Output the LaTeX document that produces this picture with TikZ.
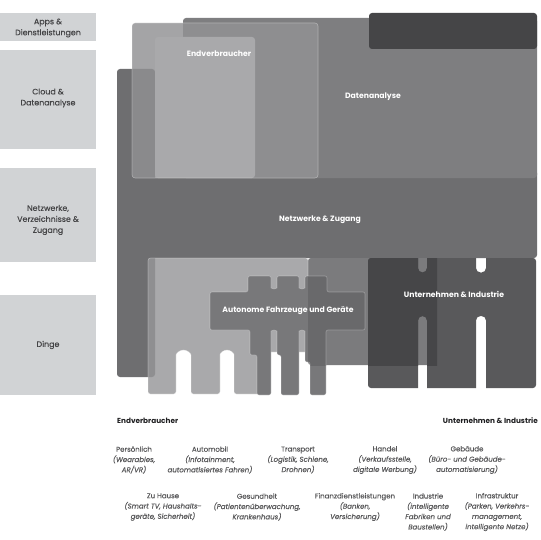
\documentclass[tikz,border=0pt]{standalone}
\usepackage{fontspec}
\setmainfont{Poppins}
\newfontfamily\semifont{Poppins}[FakeBold=0.25]
\definecolor{cLbox}{HTML}{D1D3D5}
\definecolor{cLtxt}{HTML}{444446}
\definecolor{cN}{HTML}{6E6E70}
\definecolor{cD}{HTML}{7E7E80}
\definecolor{cBar}{HTML}{454547}
\definecolor{cEw}{HTML}{A4A4A6}
\definecolor{cEd}{HTML}{8E8E90}
\definecolor{cEn}{HTML}{8A8A8C}
\definecolor{cL}{HTML}{A9A9AB}
\definecolor{cC}{HTML}{A9A9AB}
\definecolor{cCn}{HTML}{8F8F91}
\definecolor{cM}{HTML}{7B7B7D}
\definecolor{cA}{HTML}{78787A}
\definecolor{cAm}{HTML}{69696B}
\definecolor{cU}{HTML}{59595B}
\definecolor{cUm}{HTML}{464648}
\definecolor{cHead}{HTML}{1E1E20}
\definecolor{cItem}{HTML}{58585A}
\begin{document}
\begin{tikzpicture}[x=1pt,y=-1pt,
  lbox/.style={fill=cLbox, draw=none, inner sep=0pt, minimum width=96pt},
  ltxt/.style={text=cLtxt, font=\semifont\fontsize{7.9}{11}\selectfont, align=center, inner sep=0pt},
  wtxt/.style={text=white, font=\bfseries\fontsize{7.7}{9}\selectfont, inner sep=0pt},
  head/.style={text=cHead, font=\bfseries\fontsize{7.3}{9}\selectfont, inner sep=0pt},
  item/.style={text=cItem, font=\semifont\fontsize{7.0}{10.3}\selectfont, align=center, inner sep=0pt},
  edge/.style={draw=white, draw opacity=.3, line width=.6pt}]
\useasboundingbox (0,0) rectangle (540,540);
\fill[white] (0,0) rectangle (540,540);

% left level boxes
\node[lbox, minimum height=28pt] (bapps) at (48,27) {};
\node[lbox, minimum height=99pt] (bcloud) at (48,99.5) {};
\node[lbox, minimum height=94pt] (bnet) at (48,215) {};
\node[lbox, minimum height=100pt] (bding) at (48,345) {};
\node[ltxt] (tapps) at (48,28) {Apps \&\\Dienstleistungen};
\node[ltxt] (tcloud) at (48,98) {Cloud \&\\Datenanalyse};
\node[ltxt] (tnet) at (48,220) {Netzwerke,\\Verzeichnisse \&\\Zugang};
\node[ltxt] (tding) at (48,345) {Dinge};

% network layer (band + left column)
\fill[cN, rounded corners=3] (117,170) rectangle (537,258);
\fill[cN, rounded corners=3] (117,69) rectangle (155,377);
% data analysis
\fill[cD, rounded corners=3] (183,18) rectangle (537,178);
\fill[cBar, rounded corners=3] (369,13) rectangle (537,49);

% consumer column
\def\Epath{(132,23) rectangle (318,178)}
\fill[cEw, rounded corners=3] \Epath;
\begin{scope}
  \clip[rounded corners=3] (183,18) rectangle (537,178);
  \fill[cEd, rounded corners=3] \Epath;
\end{scope}
\begin{scope}
  \clip[rounded corners=3] (117,69) rectangle (155,377);
  \fill[cEn, rounded corners=3] \Epath;
\end{scope}
\fill[cL, rounded corners=3] (155,37) rectangle (255,178);
\draw[edge, rounded corners=3] \Epath;

% middle block under enterprise
\fill[cM, rounded corners=3] (308,258) rectangle (437,365);

% consumer things (comb)
\def\Cpath{(148,258) -- (308,258) -- (308,352) -- (262,352) -- (262,394) -- (234,394) -- (234,357) arc[start angle=0,end angle=-180,radius=7] -- (220,394) -- (191,394) -- (191,357.5) arc[start angle=0,end angle=-180,radius=7.5] -- (176,394) -- (148,394) -- cycle}
\fill[cC, rounded corners=2.5] \Cpath;
\begin{scope}
  \clip[rounded corners=3] (117,69) rectangle (155,377);
  \fill[cCn, rounded corners=2.5] \Cpath;
\end{scope}
\draw[edge, rounded corners=2.5] \Cpath;

% autonomous vehicles
\def\Apath{(248,276) -- (271,276) -- (271,286) arc[start angle=180,end angle=0,radius=3] -- (277,276) -- (299,276) -- (299,286) arc[start angle=180,end angle=0,radius=3] -- (305,276) -- (327,276) -- (327,292) -- (365,292) -- (365,330) -- (326,330) -- (326,395) -- (310,395) -- (310,362) -- (305,362) -- (305,333) arc[start angle=0,end angle=-180,radius=3] -- (299,395) -- (281,395) -- (281,355) -- (277,355) -- (277,333) arc[start angle=0,end angle=-180,radius=3] -- (271,395) -- (257,395) -- (257,355) -- (250,355) -- (250,330) -- (210,330) -- (210,292) -- (248,292) -- cycle}
\fill[cA, rounded corners=2] \Apath;
\begin{scope}
  \clip (308,258) rectangle (437,365);
  \fill[cAm, rounded corners=2] \Apath;
\end{scope}
\draw[edge, rounded corners=2] \Apath;

% enterprise & industry (comb)
\begin{scope}
  \clip[rounded corners=3] (368,258) rectangle (536,388);
  \fill[cU, even odd rule] (360,250) rectangle (545,395)
    [rounded corners=4.5] (418,245) rectangle (427,272.5) (476,245) rectangle (486,272.5)
    (418,316) rectangle (427,400) (476,316) rectangle (486,400);
  \begin{scope}
    \clip (308,258) rectangle (437,365);
    \fill[cUm, even odd rule] (360,250) rectangle (545,395)
      [rounded corners=4.5] (418,245) rectangle (427,272.5) (476,245) rectangle (486,272.5)
      (418,316) rectangle (427,400) (476,316) rectangle (486,400);
  \end{scope}
\end{scope}

% labels in the diagram
\node[wtxt] (lend) at (219,54) {Endverbraucher};
\node[wtxt] (ldat) at (373,97) {Datenanalyse};
\node[wtxt] (lnet) at (320,220) {Netzwerke \& Zugang};
\node[wtxt] (laut) at (288,311) {Autonome Fahrzeuge und Geräte};
\node[wtxt] (lunt) at (454,294) {Unternehmen \& Industrie};

% legend below
\node[head, anchor=west] (hend) at (117,421) {Endverbraucher};
\node[head, anchor=east] (hunt) at (538,421) {Unternehmen \& Industrie};

\node[item] (iper) at (134,460) {Persönlich\\\textit{(Wearables,}\\\textit{AR/VR)}};
\node[item] (iaut) at (210,460) {Automobil\\\textit{(Infotainment,}\\\textit{automatisiertes Fahren)}};
\node[item] (itra) at (298,460) {Transport\\\textit{(Logistik, Schiene,}\\\textit{Drohnen)}};
\node[item] (ihan) at (385,460) {Handel\\\textit{(Verkaufsstelle,}\\\textit{digitale Werbung)}};
\node[item] (igeb) at (467,460) {Gebäude\\\textit{(Büro- und Gebäude-}\\\textit{automatisierung)}};

\node[item] (ihau) at (163,507) {Zu Hause\\\textit{(Smart TV, Haushalts-}\\\textit{geräte, Sicherheit)}};
\node[item] (iges) at (257,507) {Gesundheit\\\textit{(Patientenüberwachung,}\\\textit{Krankenhaus)}};
\node[item] (ifin) at (355,507) {Finanzdienstleistungen\\\textit{(Banken,}\\\textit{Versicherung)}};
\node[item] (iind) at (428,512) {Industrie\\\textit{(intelligente}\\\textit{Fabriken und}\\\textit{Baustellen)}};
\node[item] (iinf) at (497,512) {Infrastruktur\\\textit{(Parken, Verkehrs-}\\\textit{management,}\\\textit{intelligente Netze)}};
\end{tikzpicture}
\end{document}
